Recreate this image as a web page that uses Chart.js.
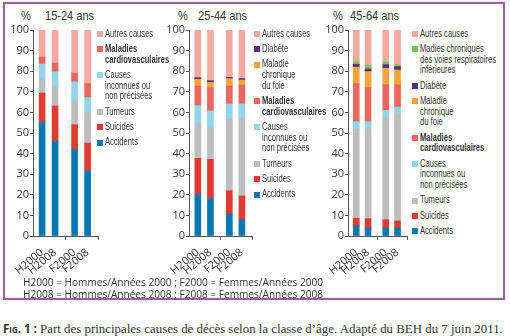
<!DOCTYPE html>
<html>
<head>
<meta charset="utf-8">
<script src="https://cdn.jsdelivr.net/npm/chart.js@4.4.0/dist/chart.umd.min.js"></script>
<style>
  body { margin: 0; width: 510px; height: 336px; background: #fff; position: relative; overflow: hidden; font-family: "Open Sans", sans-serif; color: #333; }
  #frame { position: absolute; left: 3px; top: 2px; width: 502px; height: 298px; box-sizing: border-box; border: 2px solid #9c5c9e; }
  canvas { position: absolute; top: 20px; }
  .ttl { position: absolute; top: 8px; font-family: "Liberation Sans", sans-serif; font-size: 13px; line-height: 16px; color: #333; transform: scaleX(0.85); transform-origin: left top; }
  .lg { position: absolute; top: 28.6px; font-family: "Liberation Sans", sans-serif; font-size: 10px; line-height: 10.7px; color: #333; white-space: nowrap; }
  .lg div { position: relative; padding-left: 8px; margin-bottom: 4.6px; }
  .lg div span { display: inline-block; transform: scaleX(0.76); transform-origin: left top; }
  .lg i { position: absolute; left: 0; top: 2.5px; width: 6px; height: 6px; }
  .note { position: absolute; left: 23px; top: 277px; font-size: 10.1px; line-height: 11.5px; color: #333; white-space: nowrap; }
  .cap { position: absolute; left: 3px; top: 321px; font-family: "Liberation Serif", serif; font-size: 12.9px; line-height: 15px; color: #333; white-space: nowrap; }
  .cap b { font-family: "Open Sans", sans-serif; font-variant: small-caps; font-size: 11.5px; }
</style>
</head>
<body>
<div id="frame"></div>

<div class="ttl" style="left:21px">%</div>
<div class="ttl" style="left:45px">15-24 ans</div>
<div class="ttl" style="left:178px">%</div>
<div class="ttl" style="left:198px">25-44 ans</div>
<div class="ttl" style="left:333px">%</div>
<div class="ttl" style="left:350px">45-64 ans</div>

<canvas id="c1" width="100" height="256" style="left:3px"></canvas>
<canvas id="c2" width="98" height="256" style="left:159px"></canvas>
<canvas id="c3" width="94" height="256" style="left:318px"></canvas>

<div class="lg" id="lg1" style="left:97px"></div>
<div class="lg" id="lg2" style="left:254px"></div>
<div class="lg" id="lg3" style="left:412px"></div>

<div class="note">H2000 = Hommes/Années 2000 ; F2000 = Femmes/Années 2000<br>H2008 = Hommes/Années 2008 ; F2008 = Femmes/Années 2008</div>
<div class="cap"><b>Fig. 1 :</b> Part des principales causes de décès selon la classe d’âge. Adapté du BEH du 7 juin 2011.</div>

<script>
// groupes (barres) et leur position sur l'axe
const groups = ["H2000", "H2008", "F2000", "F2008"];
const xPos = [0, 1, 2.5, 3.5];
const sepTicks = [1.75, 4.3];
const yTicks = [0, 10, 20, 30, 40, 50, 60, 70, 80, 90, 100];

// parts en % (segments, du bas vers le haut)
const accidents1 = [55.3, 46.1, 42.2, 31.7];
const suicides1 = [14.1, 17.0, 11.8, 13.4];
const tumeurs1 = [6.8, 9.1, 11.5, 14.6];
const inconnues1 = [7.3, 7.6, 9.3, 7.5];
const cardio1 = [3.4, 4.2, 4.3, 6.8];
const autres1 = [13.1, 16.0, 20.9, 26.0];

const accidents2 = [20.4, 18.4, 10.8, 7.9];
const suicides2 = [17.3, 18.8, 11.2, 11.5];
const tumeurs2 = [17.0, 15.4, 34.8, 37.4];
const inconnues2 = [8.6, 8.1, 7.3, 7.3];
const cardio2 = [9.5, 11.3, 8.7, 9.2];
const foie2 = [3.3, 2.6, 3.6, 2.4];
const diabete2 = [0.8, 0.8, 0.6, 0.7];
const autres2 = [23.1, 24.6, 23.0, 23.6];

const accidents3 = [5.0, 3.9, 3.9, 3.9];
const suicides3 = [3.6, 4.5, 4.0, 3.4];
const tumeurs3 = [43.3, 43.5, 49.9, 52.1];
const inconnues3 = [3.6, 3.6, 3.2, 3.2];
const cardio3 = [18.5, 16.5, 12.5, 10.9];
const foie3 = [8.0, 7.8, 7.9, 7.1];
const diabete3 = [1.3, 1.3, 1.8, 1.6];
const respi3 = [1.2, 1.7, 1.1, 1.0];
const autres3 = [15.5, 17.2, 15.7, 16.8];

const col = {
  accidents: "#0a76af", suicides: "#e03b31", tumeurs: "#bdbdbd", inconnues: "#93d4ea",
  cardio: "#e8685f", foie: "#f3a43b", diabete: "#5b2c83", respi: "#77c158", autres: "#f4aaa1"
};
const noms = {
  accidents: "Accidents", suicides: "Suicides", tumeurs: "Tumeurs",
  inconnues: "Causes\ninconnues ou\nnon précisées", cardio: "<b>Maladies\ncardiovasculaires</b>",
  foie: "Maladie\nchronique\ndu foie", diabete: "Diabète",
  respi: "Madies chroniques\ndes voies respiratoires\ninférieures", autres: "Autres causes"
};

const tickFont = { family: "'Open Sans', sans-serif", size: 11 };

const sepPlugin = {
  id: "sep",
  afterDraw(chart) {
    const ctx = chart.ctx, x = chart.scales.x, b = chart.chartArea.bottom;
    ctx.save();
    ctx.strokeStyle = "#555";
    ctx.lineWidth = 1;
    sepTicks.forEach(v => {
      const px = Math.round(x.getPixelForValue(v)) + 0.5;
      ctx.beginPath(); ctx.moveTo(px, b); ctx.lineTo(px, b + 4); ctx.stroke();
    });
    ctx.restore();
  }
};

function panel(id, legendId, keys, series) {
  const datasets = keys.map((k, i) => ({
    label: k,
    data: xPos.map((x, j) => ({ x: x, y: series[i][j] })),
    backgroundColor: col[k],
    borderWidth: 0,
    barThickness: 6
  }));
  new Chart(document.getElementById(id), {
    type: "bar",
    data: { datasets: datasets },
    options: {
      responsive: false,
      animation: false,
      devicePixelRatio: 1,
      layout: { padding: { top: 10, right: 5, left: 0, bottom: 0 } },
      plugins: { legend: { display: false }, tooltip: { enabled: false } },
      scales: {
        x: {
          type: "linear", stacked: true, offset: false, min: -0.7, max: 4.3,
          afterBuildTicks: s => { s.ticks = xPos.map(v => ({ value: v })); },
          afterFit: s => { s.height = 40; },
          grid: { display: false },
          border: { display: true, color: "#555", width: 1 },
          ticks: { callback: (v, i) => groups[i], minRotation: 40, maxRotation: 40, autoSkip: false, padding: 2, color: "#333", font: tickFont }
        },
        y: {
          stacked: true, min: 0, max: 100,
          afterBuildTicks: s => { s.ticks = yTicks.map(v => ({ value: v })); },
          afterFit: s => { s.width = 30; },
          grid: { drawOnChartArea: false, drawTicks: true, tickLength: 3, color: "#555" },
          border: { display: true, color: "#555", width: 1 },
          ticks: { padding: 1, color: "#333", font: tickFont }
        }
      }
    },
    plugins: [sepPlugin]
  });
  // légende : du haut vers le bas
  const lg = document.getElementById(legendId);
  keys.slice().reverse().forEach(k => {
    const d = document.createElement("div");
    d.innerHTML = '<i style="background:' + col[k] + '"></i><span>' + noms[k].replace(/\n/g, "<br>") + '</span>';
    lg.appendChild(d);
  });
}

panel("c1", "lg1",
  ["accidents", "suicides", "tumeurs", "inconnues", "cardio", "autres"],
  [accidents1, suicides1, tumeurs1, inconnues1, cardio1, autres1]);
panel("c2", "lg2",
  ["accidents", "suicides", "tumeurs", "inconnues", "cardio", "foie", "diabete", "autres"],
  [accidents2, suicides2, tumeurs2, inconnues2, cardio2, foie2, diabete2, autres2]);
panel("c3", "lg3",
  ["accidents", "suicides", "tumeurs", "inconnues", "cardio", "foie", "diabete", "respi", "autres"],
  [accidents3, suicides3, tumeurs3, inconnues3, cardio3, foie3, diabete3, respi3, autres3]);
</script>
</body>
</html>
